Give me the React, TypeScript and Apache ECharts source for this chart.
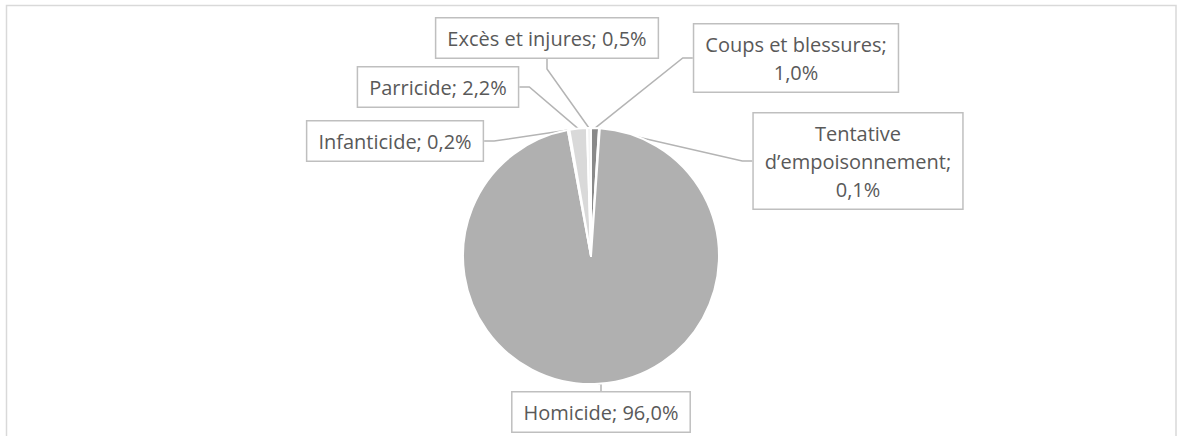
import React, { useEffect, useRef } from "react";
import * as echarts from "echarts";

const categories = [
  "Coups et blessures",
  "Tentative d’empoisonnement",
  "Homicide",
  "Infanticide",
  "Parricide",
  "Excès et injures",
];
const values = [1.0, 0.1, 96.0, 0.2, 2.2, 0.5];
const colors = ["#8a8a8a", "#e6e6e6", "#b0b0b0", "#f4f4f4", "#d9d9d9", "#f4f4f4"];
const labelPos: [number, number][] = [
  [796, 58],
  [858, 161],
  [601, 412],
  [395, 141],
  [438, 87],
  [547, 38],
];

function fmtLabel(name: string, v: number): string {
  const pct = v.toFixed(1).replace(".", ",") + "%";
  if (name === "Coups et blessures") return name + ";\n" + pct;
  if (name === "Tentative d’empoisonnement") return "Tentative\nd’empoisonnement;\n" + pct;
  return name + "; " + pct;
}

export default function App() {
  const ref = useRef<HTMLDivElement>(null);
  useEffect(() => {
    document.body.style.margin = "0";
    const chart = echarts.init(ref.current!, undefined, { renderer: "svg" });
    chart.setOption({
      animation: false,
      backgroundColor: "#ffffff",
      graphic: [
        {
          type: "rect",
          shape: { x: 6.5, y: 5.5, width: 1169.5, height: 450 },
          style: { fill: "none", stroke: "#d9d9d9", lineWidth: 1.5 },
          silent: true,
        },
      ],
      series: [
        {
          type: "pie",
          center: [591, 256],
          radius: 128,
          startAngle: 90,
          clockwise: true,
          avoidLabelOverlap: false,
          data: categories.map((c, i) => ({
            name: c,
            value: values[i],
            itemStyle: { color: colors[i] },
          })),
          itemStyle: { borderColor: "#ffffff", borderWidth: 2 },
          label: {
            show: true,
            position: "outside",
            formatter: (p: any) => fmtLabel(p.name, p.value),
            color: "#595959",
            fontFamily: "Open Sans",
            fontSize: 20,
            lineHeight: 28,
            align: "center",
            backgroundColor: "#ffffff",
            borderColor: "#bfbfbf",
            borderWidth: 1.5,
            padding: [6, 11, 5, 11],
          },
          labelLine: {
            show: true,
            length: 10,
            length2: 10,
            lineStyle: { color: "#b4b4b4", width: 1.5 },
          },
          labelLayout: (params: any) => {
            const pos = labelPos[params.dataIndex];
            return {
              x: pos[0],
              y: pos[1],
              align: "center",
              verticalAlign: "middle",
            };
          },
          emphasis: { disabled: true },
        },
      ],
    });
    return () => chart.dispose();
  }, []);
  return <div ref={ref} style={{ width: 1178, height: 436 }} />;
}
